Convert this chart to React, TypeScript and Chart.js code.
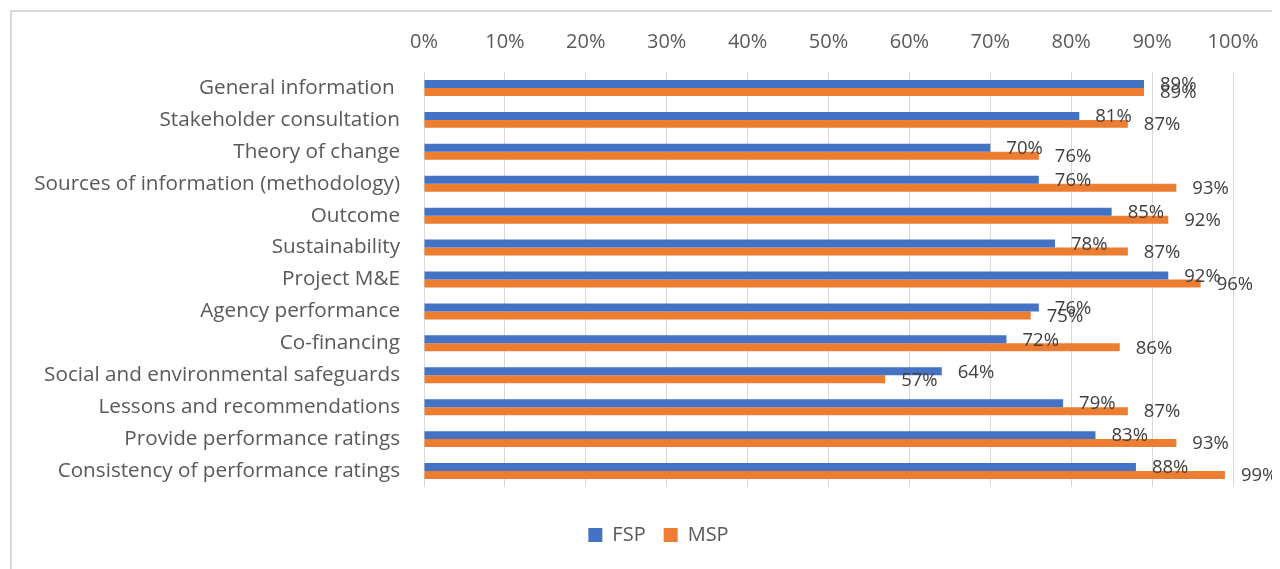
import React, { useEffect, useRef } from "react";
import { Chart, registerables } from "chart.js";

Chart.register(...registerables);

const categories = [
  "General information ",
  "Stakeholder consultation",
  "Theory of change",
  "Sources of information (methodology)",
  "Outcome",
  "Sustainability",
  "Project M&E",
  "Agency performance",
  "Co-financing",
  "Social and environmental safeguards",
  "Lessons and recommendations",
  "Provide performance ratings",
  "Consistency of performance ratings",
];

const fspValues = [89, 81, 70, 76, 85, 78, 92, 76, 72, 64, 79, 83, 88];
const mspValues = [89, 87, 76, 93, 92, 87, 96, 75, 86, 57, 87, 93, 99];

const seriesNames = ["FSP", "MSP"];
const seriesColors = ["#4472C4", "#ED7D31"];

const FONT = "'Open Sans', sans-serif";
const AXIS_COLOR = "#595959";
const LABEL_COLOR = "#404040";
const GRID_COLOR = "#D9D9D9";

const dataLabelPlugin = {
  id: "dataLabels",
  afterDatasetsDraw(chart: any) {
    const ctx = chart.ctx;
    ctx.save();
    ctx.font = `18.5px ${FONT}`;
    ctx.fillStyle = LABEL_COLOR;
    ctx.textAlign = "left";
    ctx.textBaseline = "middle";
    chart.data.datasets.forEach((ds: any, di: number) => {
      const meta = chart.getDatasetMeta(di);
      meta.data.forEach((el: any, i: number) => {
        const v = ds.data[i];
        ctx.fillText(`${v}%`, el.x + 16, el.y + 1);
      });
    });
    ctx.restore();
  },
};

const legendShiftPlugin = {
  id: "legendShift",
  afterLayout(chart: any) {
    if (chart.legend) {
      chart.legend.left += 38;
      chart.legend.right += 38;
    }
  },
};

export default function App() {
  const canvasRef = useRef<HTMLCanvasElement | null>(null);

  useEffect(() => {
    document.documentElement.style.overflow = "hidden";
    document.body.style.overflow = "hidden";
    const canvas = canvasRef.current;
    if (!canvas) return;
    const chart = new Chart(canvas, {
      type: "bar",
      data: {
        labels: categories,
        datasets: [
          {
            label: seriesNames[0],
            data: fspValues,
            backgroundColor: seriesColors[0],
            borderWidth: 0,
          },
          {
            label: seriesNames[1],
            data: mspValues,
            backgroundColor: seriesColors[1],
            borderWidth: 0,
          },
        ],
      },
      options: {
        indexAxis: "y",
        responsive: false,
        animation: false,
        devicePixelRatio: 1,
        categoryPercentage: 0.5,
        barPercentage: 1,
        layout: { padding: { top: 0, right: 47, bottom: 14, left: 0 } },
        scales: {
          x: {
            position: "top",
            min: 0,
            max: 100,
            ticks: {
              stepSize: 10,
              color: AXIS_COLOR,
              font: { family: FONT, size: 20 },
              padding: 18,
              callback: (v: any) => `${v}%`,
            },
            grid: { color: GRID_COLOR, drawTicks: false, lineWidth: 1 },
            border: { display: false },
            afterFit: (s: any) => {
              s.height = 64;
            },
          },
          x2: {
            type: "linear",
            position: "bottom",
            display: true,
            grid: { display: false, drawTicks: false },
            ticks: { display: false },
            border: { display: false },
            afterFit: (s: any) => {
              s.height = 20;
            },
          },
          y: {
            grid: { display: false, drawTicks: false },
            border: { display: false },
            ticks: {
              color: AXIS_COLOR,
              font: { family: FONT, size: 20.7 },
              padding: 24,
            },
            afterFit: (s: any) => {
              s.width = 416;
            },
          },
        },
        plugins: {
          legend: {
            position: "bottom",
            labels: {
              boxWidth: 14,
              boxHeight: 14,
              padding: 18,
              color: AXIS_COLOR,
              font: { family: FONT, size: 20 },
            },
          },
          tooltip: { enabled: false },
        },
      } as any,
      plugins: [dataLabelPlugin, legendShiftPlugin],
    });
    return () => chart.destroy();
  }, []);

  return (
    <div style={{ position: "relative", width: 1272, height: 561, overflow: "hidden" }}>
      <div
        style={{
          position: "absolute",
          left: 2,
          top: 2,
          width: 1400,
          height: 700,
          border: "2px solid #D9D9D9",
          boxSizing: "border-box",
        }}
      />
      <canvas
        ref={canvasRef}
        width={1272}
        height={561}
        style={{ position: "absolute", left: 0, top: 0 }}
      />
    </div>
  );
}
